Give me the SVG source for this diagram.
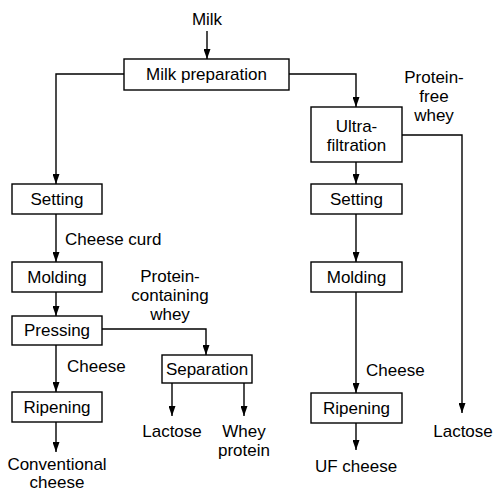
<svg xmlns="http://www.w3.org/2000/svg" width="493" height="492" viewBox="0 0 493 492">
<style>
.box{fill:#fff;stroke:#000;stroke-width:1.4}
.c{fill:none;stroke:#000;stroke-width:1.4;marker-end:url(#ah)}
text{font-family:"Liberation Sans",Arial,sans-serif;font-size:17px;fill:#000}
.m{text-anchor:middle}
</style>
<defs>
<marker id="ah" markerUnits="userSpaceOnUse" markerWidth="10" markerHeight="7" refX="10" refY="3.5" orient="auto">
<path d="M0,0 L10,3.5 L0,7 z" fill="#000"/>
</marker>
</defs>
<rect width="493" height="492" fill="#fff"/>
<g id="connectors">
<path class="c" d="M207,31 V59"/>
<path class="c" d="M124,74 H56 V184"/>
<path class="c" d="M289,74 H356 V107"/>
<path class="c" d="M56,214 V262"/>
<path class="c" d="M56,292 V316"/>
<path class="c" d="M56,345 V392"/>
<path class="c" d="M56,422 V452"/>
<path class="c" d="M102,329 H206 V355"/>
<path class="c" d="M172,383 V416"/>
<path class="c" d="M244,383 V416"/>
<path class="c" d="M356,162 V184"/>
<path class="c" d="M356,214 V262"/>
<path class="c" d="M356,292 V393"/>
<path class="c" d="M356,423 V450"/>
<path class="c" d="M402,135 H462 V413"/>
<text x="65" y="245">Cheese curd</text>
<text x="67" y="372">Cheese</text>
<text x="366" y="376">Cheese</text>
<text class="m" x="170" y="282">Protein-</text>
<text class="m" x="170" y="301">containing</text>
<text class="m" x="170" y="320">whey</text>
<text class="m" x="434" y="83">Protein-</text>
<text class="m" x="434" y="102">free</text>
<text class="m" x="434" y="121">whey</text>
</g>
<g id="milk"><text class="m" x="207" y="25">Milk</text></g>
<g id="milk-prep"><rect class="box" x="124" y="59" width="165" height="31"/><text class="m" x="206.5" y="80">Milk preparation</text></g>
<g id="setting-l"><rect class="box" x="12" y="184" width="90" height="30"/><text class="m" x="57" y="205">Setting</text></g>
<g id="molding-l"><rect class="box" x="12" y="262" width="90" height="30"/><text class="m" x="57" y="283">Molding</text></g>
<g id="pressing"><rect class="box" x="12" y="316" width="90" height="29"/><text class="m" x="57" y="336">Pressing</text></g>
<g id="ripening-l"><rect class="box" x="12" y="392" width="90" height="30"/><text class="m" x="57" y="413">Ripening</text></g>
<g id="conventional"><text class="m" x="57" y="470">Conventional</text><text class="m" x="57" y="488">cheese</text></g>
<g id="separation"><rect class="box" x="162" y="355" width="90" height="28"/><text class="m" x="207" y="375">Separation</text></g>
<g id="lactose-1"><text class="m" x="172" y="437">Lactose</text></g>
<g id="whey-protein"><text class="m" x="244" y="437">Whey</text><text class="m" x="244" y="456">protein</text></g>
<g id="ultrafiltration"><rect class="box" x="311" y="107" width="91" height="55"/><text class="m" x="356.5" y="132">Ultra-</text><text class="m" x="356.5" y="151">filtration</text></g>
<g id="setting-r"><rect class="box" x="311" y="184" width="91" height="30"/><text class="m" x="356.5" y="205">Setting</text></g>
<g id="molding-r"><rect class="box" x="311" y="262" width="91" height="30"/><text class="m" x="356.5" y="283">Molding</text></g>
<g id="ripening-r"><rect class="box" x="311" y="393" width="91" height="30"/><text class="m" x="356.5" y="414">Ripening</text></g>
<g id="uf-cheese"><text class="m" x="356" y="472">UF cheese</text></g>
<g id="lactose-2"><text class="m" x="463" y="437">Lactose</text></g>
</svg>
